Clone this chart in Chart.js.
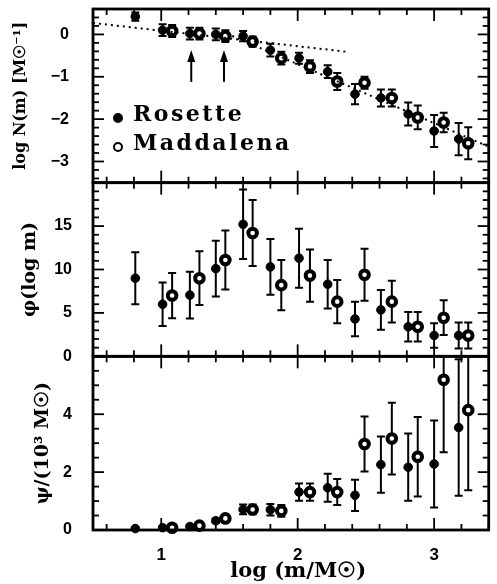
<!DOCTYPE html>
<html>
<head>
<meta charset="utf-8">
<title>Clump mass spectra</title>
<script src="https://cdn.jsdelivr.net/npm/chart.js@4.4.1/dist/chart.umd.min.js"></script>
<style>
   html, body { margin: 0; padding: 0; background: #fff; }
   canvas { display: block; }
</style>
</head>
<body>
<canvas id="spectra" width="497" height="584"></canvas>
<script>
// bin centres in log(m/Msun); the second cloud is offset slightly so bars don't overlap
const rosetteLogM = [0.81, 1.01, 1.21, 1.40, 1.60, 1.80, 2.01, 2.22, 2.42, 2.61, 2.81, 3.00, 3.18];
const maddalenaLogM = [1.08, 1.28, 1.47, 1.67, 1.88, 2.09, 2.29, 2.49, 2.69, 2.88, 3.07, 3.25];

// log N(m)
const rosetteLogN = [0.42, 0.10, 0.02, 0.00, -0.04, -0.37, -0.56, -0.88, -1.41, -1.50, -1.88, -2.28, -2.47];
const rosetteLogNErr = [0.10, 0.14, 0.14, 0.14, 0.12, 0.15, 0.13, 0.15, 0.24, 0.20, 0.27, 0.38, 0.38];
const maddalenaLogN = [0.08, 0.02, -0.04, -0.17, -0.56, -0.76, -1.11, -1.14, -1.50, -1.96, -2.08, -2.57];
const maddalenaLogNErr = [0.14, 0.14, 0.14, 0.12, 0.15, 0.15, 0.20, 0.14, 0.20, 0.28, 0.23, 0.38];

// phi(log m)
const rosettePhi = [9.0, 6.0, 7.05, 10.1, 15.2, 10.3, 11.3, 8.3, 4.3, 5.35, 3.4, 2.4, 2.4];
const rosettePhiErr = [3.0, 2.5, 2.7, 3.2, 4.0, 3.2, 3.4, 2.8, 2.0, 2.3, 1.7, 1.4, 1.5];
const maddalenaPhi = [7.0, 9.0, 11.1, 14.2, 8.2, 9.3, 6.3, 9.4, 6.3, 3.4, 4.45, 2.4];
const maddalenaPhiErr = [2.6, 3.1, 3.4, 3.8, 2.9, 3.0, 2.5, 3.0, 2.4, 1.7, 2.0, 1.5];

// psi / 10^3 Msun
const rosettePsi = [0.05, 0.08, 0.12, 0.32, 0.71, 0.70, 1.31, 1.46, 1.20, 2.26, 2.17, 2.28, 3.54];
const rosettePsiErr = [0.03, 0.04, 0.05, 0.08, 0.17, 0.20, 0.30, 0.48, 0.54, 0.97, 1.16, 1.50, 2.36];
const maddalenaPsi = [0.08, 0.15, 0.40, 0.71, 0.66, 1.31, 1.31, 2.97, 3.16, 2.53, 5.19, 4.14];
const maddalenaPsiErr = [0.04, 0.05, 0.08, 0.17, 0.20, 0.30, 0.45, 0.95, 1.24, 1.37, 2.50, 2.77];

// power-law guides in the top panel
const shallowLogM = [0.5, 2.36];
const shallowLogN = [0.27, -0.41];
const steepLogM = [1.48, 3.4];
const steepLogN = [0.02, -2.65];

// completeness arrows
const arrowLogM = [1.22, 1.46];
const arrowFrom = -1.12;
const arrowTo = -0.37;

const seriesNames = ["Rosette", "Maddalena"];
const xTicks = [1, 2, 3];
const logNTicks = [-3, -2, -1, 0];
const phiTicks = [0, 5, 10, 15];
const psiTicks = [0, 2, 4];

const ink = "#000";
const panelIds = ["yN", "yPhi", "yPsi"];
const tickSteps = { x: [1, 0.2], yN: [1, 0.2], yPhi: [5, 1], yPsi: [2, 0.5] };

function points(xs, ys)
{
   return xs.map((x, i) => ({ x: x, y: ys[i] }));
}

function stepValues(min, max, step)
{
   const out = [];
   for (let k = Math.ceil(min / step - 1e-6); k * step <= max + 1e-6; k++)
   {
      out.push(+(k * step).toFixed(6));
   }
   return out;
}

function isMajor(v, major)
{
   return Math.abs(v / major - Math.round(v / major)) < 1e-6;
}

function fixedTicks(values)
{
   return scale => { scale.ticks = values.map(v => ({ value: v })); };
}

const tickFont = { family: "Liberation Sans", weight: "bold", size: 16 };

function panelAxis(min, max, ticks, title, titleSize, titlePad, tickPad)
{
   return {
      type: "linear",
      position: "left",
      stack: "panels",
      stackWeight: 1,
      min: min,
      max: max,
      afterBuildTicks: fixedTicks(ticks),
      afterFit: scale =>
      {
         scale.width = 93;
         // the panels butt against each other, no room for half labels
         scale.paddingTop = 0;
         scale.paddingBottom = 0;
      },
      grid: { display: false },
      border: { display: false },
      ticks:
      {
         color: ink,
         font: tickFont,
         padding: tickPad,
         callback: v => String(v).replace("-", "\u2212")
      },
      title:
      {
         display: true,
         text: title,
         color: ink,
         font: { family: "DejaVu Serif", weight: "bold", size: titleSize },
         padding: { top: titlePad, bottom: 0 }
      }
   };
}

function seriesSet(label, xs, ys, errs, axis, filled)
{
   return {
      type: "scatter",
      label: label,
      data: points(xs, ys),
      errors: errs,
      yAxisID: axis,
      pointRadius: 4.3,
      pointBackgroundColor: filled ? ink : "#fff",
      pointBorderColor: ink,
      pointBorderWidth: filled ? 1 : 4,
      clip: false
   };
}

function guideLine(xs, ys)
{
   return {
      type: "line",
      label: "",
      data: points(xs, ys),
      yAxisID: "yN",
      borderColor: ink,
      borderWidth: 2,
      borderDash: [2, 4],
      pointRadius: 0,
      fill: false,
      clip: false
   };
}

// vertical error bars with caps, clipped to the panel they belong to
const errorBars =
{
   id: "errorBars",
   beforeDatasetsDraw(chart)
   {
      const ctx = chart.ctx;
      const xs = chart.scales.x;
      const area = chart.chartArea;
      chart.data.datasets.forEach(ds =>
      {
         if (!ds.errors) return;
         const ys = chart.scales[ds.yAxisID];
         ctx.save();
         ctx.beginPath();
         ctx.rect(area.left, ys.top, area.right - area.left, ys.bottom - ys.top);
         ctx.clip();
         ctx.strokeStyle = ink;
         ctx.lineWidth = 2;
         ds.data.forEach((p, j) =>
         {
            const e = ds.errors[j];
            const px = xs.getPixelForValue(p.x);
            const hi = ys.getPixelForValue(p.y + e);
            const lo = ys.getPixelForValue(p.y - e);
            ctx.beginPath();
            ctx.moveTo(px, hi);
            ctx.lineTo(px, lo);
            ctx.moveTo(px - 4, hi);
            ctx.lineTo(px + 4, hi);
            ctx.moveTo(px - 4, lo);
            ctx.lineTo(px + 4, lo);
            ctx.stroke();
         });
         ctx.restore();
      });
   }
};

// boxed panels with inward ticks on all four sides, arrows and the legend
const panelDecor =
{
   id: "panelDecor",
   afterDraw(chart)
   {
      const ctx = chart.ctx;
      const xs = chart.scales.x;
      const left = chart.chartArea.left;
      const right = chart.chartArea.right;
      ctx.save();
      ctx.strokeStyle = ink;
      ctx.fillStyle = ink;

      const seg = (x1, y1, x2, y2) =>
      {
         ctx.beginPath();
         ctx.moveTo(x1, y1);
         ctx.lineTo(x2, y2);
         ctx.stroke();
      };

      panelIds.forEach(id =>
      {
         const s = chart.scales[id];
         const [major, minor] = tickSteps[id];
         ctx.lineWidth = 1.8;
         stepValues(s.min, s.max, minor).forEach(v =>
         {
            const py = s.getPixelForValue(v);
            const len = isMajor(v, major) ? 11 : 6;
            seg(left, py, left + len, py);
            seg(right, py, right - len, py);
         });
         stepValues(xs.min, xs.max, tickSteps.x[1]).forEach(v =>
         {
            const px = xs.getPixelForValue(v);
            const len = isMajor(v, tickSteps.x[0]) ? 12 : 6;
            seg(px, s.bottom, px, s.bottom - len);
            seg(px, s.top, px, s.top + len);
         });
         ctx.lineWidth = 2.8;
         ctx.strokeRect(left, s.top, right - left, s.bottom - s.top);
      });

      // arrows marking the completeness limits
      const yN = chart.scales.yN;
      ctx.lineWidth = 2;
      arrowLogM.forEach(m =>
      {
         const px = xs.getPixelForValue(m);
         const y0 = yN.getPixelForValue(arrowFrom);
         const y1 = yN.getPixelForValue(arrowTo);
         seg(px, y0, px, y1 + 8);
         ctx.beginPath();
         ctx.moveTo(px, y1);
         ctx.lineTo(px - 4, y1 + 12);
         ctx.lineTo(px + 4, y1 + 12);
         ctx.closePath();
         ctx.fill();
      });

      // legend
      ctx.font = "bold 22px 'DejaVu Serif'";
      ctx.letterSpacing = "2.5px";
      ctx.textBaseline = "alphabetic";
      seriesNames.forEach((name, i) =>
      {
         const cy = yN.top + 109 + i * 29;
         ctx.beginPath();
         if (i === 0)
         {
            ctx.arc(left + 25, cy, 5, 0, Math.PI * 2);
            ctx.fill();
         }
         else
         {
            ctx.lineWidth = 2;
            ctx.arc(left + 25, cy, 4, 0, Math.PI * 2);
            ctx.stroke();
         }
         ctx.fillText(name, left + 40, cy + 3);
      });
      ctx.restore();
   }
};

new Chart(document.getElementById("spectra").getContext("2d"),
{
   data:
   {
      datasets:
      [
         guideLine(shallowLogM, shallowLogN),
         guideLine(steepLogM, steepLogN),
         seriesSet(seriesNames[0], rosetteLogM, rosetteLogN, rosetteLogNErr, "yN", true),
         seriesSet(seriesNames[1], maddalenaLogM, maddalenaLogN, maddalenaLogNErr, "yN", false),
         seriesSet(seriesNames[0], rosetteLogM, rosettePhi, rosettePhiErr, "yPhi", true),
         seriesSet(seriesNames[1], maddalenaLogM, maddalenaPhi, maddalenaPhiErr, "yPhi", false),
         seriesSet(seriesNames[0], rosetteLogM, rosettePsi, rosettePsiErr, "yPsi", true),
         seriesSet(seriesNames[1], maddalenaLogM, maddalenaPsi, maddalenaPsiErr, "yPsi", false)
      ]
   },
   options:
   {
      responsive: false,
      animation: false,
      events: [],
      layout: { padding: { top: 9, right: 4, bottom: 0, left: 0 } },
      scales:
      {
         x:
         {
            type: "linear",
            position: "bottom",
            min: 0.5,
            max: 3.4,
            afterBuildTicks: fixedTicks(xTicks),
            afterFit: scale =>
            {
               scale.height = 54;
               scale.paddingLeft = 0;
               scale.paddingRight = 0;
            },
            grid: { display: false },
            border: { display: false },
            ticks: { color: ink, font: { family: "Liberation Sans", weight: "bold", size: 17 }, padding: 7 },
            title:
            {
               display: true,
               text: "  log (m/M\u2609)",
               color: ink,
               font: { family: "DejaVu Serif", weight: "bold", size: 21 },
               padding: { top: 0, bottom: 0 }
            }
         },
         // stacked left axes are laid out last-first, so the bottom panel comes first
         yPsi: panelAxis(0, 6, psiTicks, "\u03C8/(10\u00B3 M\u2609)", 19, 32, 13),
         yPhi: panelAxis(0, 20, phiTicks, "\u03C6(log m)", 19, 19, 13),
         yN: panelAxis(-3.5, 0.6, logNTicks, "log N(m) [M\u2609\u207B\u00B9]", 16, 11, 16)
      },
      plugins:
      {
         legend: { display: false },
         tooltip: { enabled: false }
      }
   },
   plugins: [errorBars, panelDecor]
});
</script>
</body>
</html>
